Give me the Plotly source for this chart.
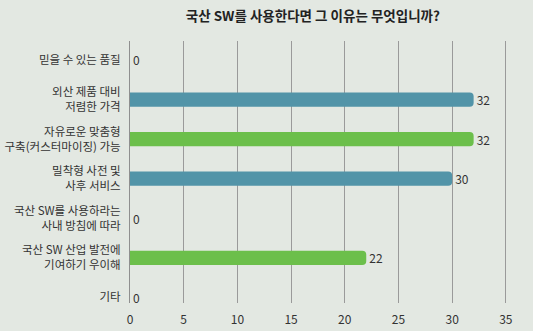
import plotly.graph_objects as go

# Survey responses: reasons for choosing domestic software
categories = [
    "믿을 수 있는 품질",
    "외산 제품 대비<br>저렴한 가격",
    "자유로운 맞춤형<br>구축(커스터마이징) 가능",
    "밀착형 사전 및<br>사후 서비스",
    "국산 SW를 사용하라는<br>사내 방침에 따라",
    "국산 SW 산업 발전에<br>기여하기 우이해",
    "기타",
]
values = [0, 32, 32, 30, 0, 22, 0]
bar_colors = ["#5294a8", "#5294a8", "#6cbf4b", "#5294a8", "#6cbf4b", "#6cbf4b", "#5294a8"]
x_ticks = [0, 5, 10, 15, 20, 25, 30, 35]

FONT = "Noto Sans CJK KR"
BG = "#e3e8e2"
TEXT = "#333333"

fig = go.Figure(
    go.Bar(
        x=values,
        y=categories,
        orientation="h",
        marker=dict(color=bar_colors, line=dict(width=0)),
        width=0.36,
        text=[str(v) for v in values],
        textposition="outside",
        constraintext="none",
        textfont=dict(family=FONT, size=12, color=TEXT),
        cliponaxis=False,
        hoverinfo="skip",
    )
)

fig.update_layout(
    width=533,
    height=331,
    margin=dict(l=130, r=25, t=41, b=28),
    paper_bgcolor=BG,
    plot_bgcolor=BG,
    barcornerradius=4,
    showlegend=False,
    title=dict(
        text="<b>국산 SW를 사용한다면 그 이유는 무엇입니까?</b>",
        font=dict(family=FONT, size=13.5, color="#222222"),
        x=0.587,
        xanchor="center",
        y=0.952,
        yanchor="middle",
    ),
    font=dict(family=FONT, size=11.5, color=TEXT),
)

fig.update_xaxes(
    range=[0, 35.2],
    tickvals=x_ticks,
    showgrid=True,
    gridcolor="#9a9a9a",
    gridwidth=1,
    zeroline=False,
    showline=False,
    ticks="",
    automargin=False,
    ticklabelstandoff=8,
    tickfont=dict(family=FONT, size=12, color=TEXT),
    fixedrange=True,
)

fig.update_yaxes(
    type="category",
    categoryorder="array",
    categoryarray=categories,
    range=[6.14, -0.48],
    showgrid=False,
    showline=True,
    linecolor="#8f8f8f",
    linewidth=1,
    ticks="",
    automargin=False,
    ticklabelstandoff=6,
    tickfont=dict(family=FONT, size=11.5, color=TEXT),
    fixedrange=True,
)

fig.write_html("out.html")
